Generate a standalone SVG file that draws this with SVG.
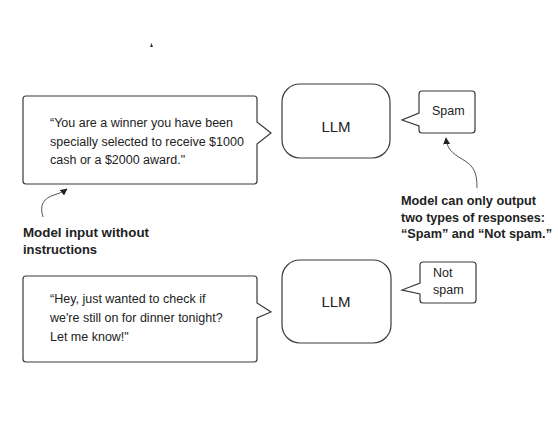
<svg xmlns="http://www.w3.org/2000/svg" width="558" height="438" viewBox="0 0 558 438">
<defs>
<style>
.box{fill:#fff;stroke:#3a3a3a;stroke-width:1.2;stroke-linejoin:miter}
.llm{fill:#fff;stroke:#3a3a3a;stroke-width:1.2}
.t{font-family:"Liberation Sans",Arial,sans-serif;font-size:12.5px;fill:#222}
.big{font-family:"Liberation Sans",Arial,sans-serif;font-size:15px;fill:#222}
.ann{font-family:"Liberation Sans",Arial,sans-serif;font-weight:bold;font-size:13.2px;fill:#222}
.con{fill:none;stroke:#555;stroke-width:1}
</style>
<marker id="ah" viewBox="0 0 10 10" refX="9" refY="5" markerWidth="7" markerHeight="7" orient="auto" markerUnits="userSpaceOnUse">
<path d="M0,0 L10,5 L0,10 Z" fill="#222"/>
</marker>
</defs>
<rect width="558" height="438" fill="#fff"/>
<path d="M150,47 L151.5,43 L153,47 Z" fill="#333"/>

<g id="input1">
<path class="box" d="M26,96 H254 Q257,96 257,99 V122 L271,133 L257,144 V181 Q257,184 254,184 H26 Q23,184 23,181 V99 Q23,96 26,96 Z"/>
<text class="t" x="50" y="127">“You are a winner you have been</text>
<text class="t" x="50" y="146">specially selected to receive $1000</text>
<text class="t" x="50" y="164">cash or a $2000 award."</text>
</g>

<g id="llm1">
<rect class="llm" x="282" y="84" width="108" height="74" rx="18" ry="18"/>
<text class="big" x="336" y="132" text-anchor="middle">LLM</text>
</g>

<g id="out1">
<path class="box" d="M422,91 H472 Q475,91 475,94 V130 Q475,133 472,133 H422 Q419,133 419,130 V126 L402,120 L419,113 V94 Q419,91 422,91 Z"/>
<text class="t" x="432" y="115">Spam</text>
</g>

<g id="input2">
<path class="box" d="M26,276 H254 Q257,276 257,279 V303 L271,312 L257,318 V359 Q257,362 254,362 H26 Q23,362 23,359 V279 Q23,276 26,276 Z"/>
<text class="t" x="50" y="303">“Hey, just wanted to check if</text>
<text class="t" x="50" y="322">we're still on for dinner tonight?</text>
<text class="t" x="50" y="341">Let me know!"</text>
</g>

<g id="llm2">
<rect class="llm" x="282" y="260" width="109" height="83" rx="18" ry="18"/>
<text class="big" x="336" y="307" text-anchor="middle">LLM</text>
</g>

<g id="out2">
<path class="box" d="M423,262 H473 Q476,262 476,265 V300 Q476,303 473,303 H423 Q420,303 420,300 V294 L402,290 L420,283 V265 Q420,262 423,262 Z"/>
<text class="t" x="433" y="277">Not</text>
<text class="t" x="433" y="294">spam</text>
</g>

<g id="ann1">
<text class="ann" x="23" y="237" textLength="126" lengthAdjust="spacingAndGlyphs">Model input without</text>
<text class="ann" x="23" y="254" textLength="74" lengthAdjust="spacingAndGlyphs">instructions</text>
</g>

<g id="ann2">
<text class="ann" x="401" y="205" textLength="135" lengthAdjust="spacingAndGlyphs">Model can only output</text>
<text class="ann" x="401" y="222" textLength="144" lengthAdjust="spacingAndGlyphs">two types of responses:</text>
<text class="ann" x="401" y="238" textLength="151" lengthAdjust="spacingAndGlyphs">“Spam” and “Not spam.”</text>
</g>

<g id="connectors">
<path class="con" d="M43,217 C39,205 44,198 54,195 C60,193 63,192 67,189" marker-end="url(#ah)"/>
<path class="con" d="M477,188 C477,172 474,166 462,159 C452,153 447,149 446,138" marker-end="url(#ah)"/>
</g>
</svg>
